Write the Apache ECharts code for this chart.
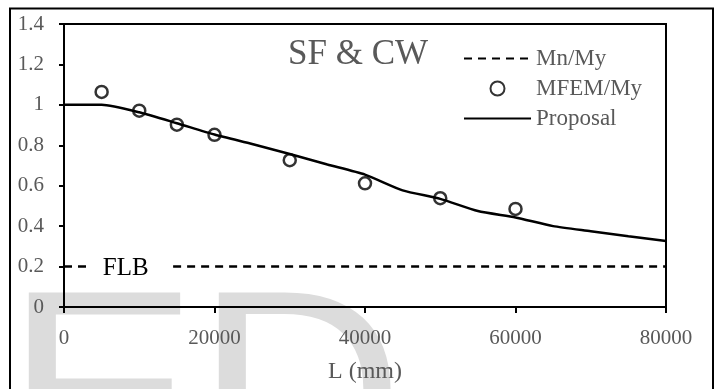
<!DOCTYPE html>
<html>
<head>
<meta charset="utf-8">
<script src="https://cdn.jsdelivr.net/npm/echarts@6/dist/echarts.min.js"></script>
<style>
  html, body { margin: 0; padding: 0; background: #fff; }
  #chart { width: 720px; height: 389px; }
</style>
</head>
<body>
<div id="chart"></div>
<script>
// Span L (mm) against the normalised moment.
const lengths = [0, 5000, 10000, 15000, 20000, 25000, 30000, 35000, 40000,
  45000, 50000, 55000, 60000, 65000, 70000, 75000, 80000];
const proposal = [1.0, 1.0, 0.963, 0.909, 0.853, 0.806, 0.757, 0.705, 0.655,
  0.577, 0.535, 0.475, 0.443, 0.40, 0.375, 0.35, 0.326];

const femLengths = [5000, 10000, 15000, 20000, 30000, 40000, 50000, 60000];
const femRatio = [1.064, 0.971, 0.902, 0.852, 0.726, 0.612, 0.538, 0.485];

// Mn/My plateau, broken where the FLB label sits
const mnLengths = [0, 3200, 8200, 14500, 80000];
const mnRatio = [0.2, 0.2, '-', 0.2, 0.2];
const flbAt = [8200, 0.2];

const xTicks = { min: 0, max: 80000, interval: 20000 };
const yTicks = { min: 0, max: 1.4, interval: 0.2 };

const SERIF = "'Times New Roman', 'Liberation Serif', serif";
const SANS = "'Liberation Sans', Arial, sans-serif";
const GREY = '#595959';
const noSymbol = { color: 'transparent', borderColor: 'transparent', borderWidth: 0 };

const chart = echarts.init(document.getElementById('chart'));

chart.setOption({
  animation: false,
  backgroundColor: '#fff',
  title: {
    text: 'SF & CW',
    left: 283, top: 32,
    textStyle: { fontFamily: SERIF, fontSize: 35, fontWeight: 'normal', color: GREY },
  },
  legend: {
    orient: 'vertical',
    left: 458, top: 42,
    itemWidth: 67, itemHeight: 14, itemGap: 7,
    textStyle: { fontFamily: SERIF, fontSize: 23, color: GREY },
    data: [
      { name: 'Mn/My', itemStyle: noSymbol },
      { name: 'MFEM/My' },
      { name: 'Proposal', itemStyle: noSymbol },
    ],
  },
  grid: {
    left: 64, top: 24, right: 54, bottom: 79,
    show: true, borderColor: '#000', borderWidth: 2,
  },
  xAxis: {
    type: 'value', ...xTicks,
    name: 'L (mm)', nameLocation: 'middle', nameGap: 53,
    nameTextStyle: { fontFamily: SERIF, fontSize: 24, color: GREY },
    axisLine: { lineStyle: { color: '#000', width: 2 } },
    axisTick: { length: 6, lineStyle: { color: '#000', width: 2 } },
    axisLabel: { fontFamily: SERIF, fontSize: 21, color: GREY, margin: 21,
      formatter: (v) => String(v) },
    splitLine: { show: false },
  },
  yAxis: {
    type: 'value', ...yTicks,
    axisLine: { show: true, lineStyle: { color: '#000', width: 2 } },
    axisTick: { show: true, length: 5, lineStyle: { color: '#000', width: 2 } },
    axisLabel: { fontFamily: SERIF, fontSize: 21, color: GREY, margin: 20 },
    splitLine: { show: false },
  },
  graphic: [
    // outer frame, its bottom edge runs past the crop
    { type: 'rect', z: 10, silent: true,
      shape: { x: 10, y: 8.5, width: 703, height: 420 },
      style: { fill: 'none', stroke: '#000', lineWidth: 2 } },
    // grey watermark letters behind the plot
    { type: 'text', z: -5, silent: true, x: 5, y: 267,
      style: { text: 'E', fontFamily: SANS, fontSize: 290, fill: '#dcdcdc', verticalAlign: 'top' } },
    { type: 'text', z: -5, silent: true, x: 195, y: 267,
      style: { text: 'D', fontFamily: SANS, fontSize: 290, fill: '#dcdcdc', verticalAlign: 'top' } },
  ],
  series: [
    {
      name: 'Mn/My',
      type: 'line',
      data: mnLengths.map((x, i) => [x, mnRatio[i]]),
      connectNulls: false,
      showSymbol: false, symbol: 'none',
      color: '#000',
      lineStyle: { color: '#000', width: 2.5, type: [8, 6] },
      markPoint: {
        symbol: 'circle', symbolSize: 1,
        itemStyle: { color: 'transparent' },
        label: { show: true, position: 'inside', formatter: 'FLB', offset: [0, 2],
          fontFamily: SERIF, fontSize: 25, color: '#000' },
        data: [{ coord: flbAt }],
      },
    },
    {
      name: 'MFEM/My',
      type: 'scatter',
      data: femLengths.map((x, i) => [x, femRatio[i]]),
      symbol: 'circle', symbolSize: 12,
      z: 3,
      itemStyle: { color: 'rgba(0,0,0,0)', borderColor: '#000', borderWidth: 2.5 },
    },
    {
      name: 'Proposal',
      type: 'line',
      data: lengths.map((x, i) => [x, proposal[i]]),
      smooth: 0.2,
      showSymbol: false, symbol: 'none',
      color: '#000',
      lineStyle: { color: '#000', width: 2.5 },
    },
  ],
});
</script>
</body>
</html>
